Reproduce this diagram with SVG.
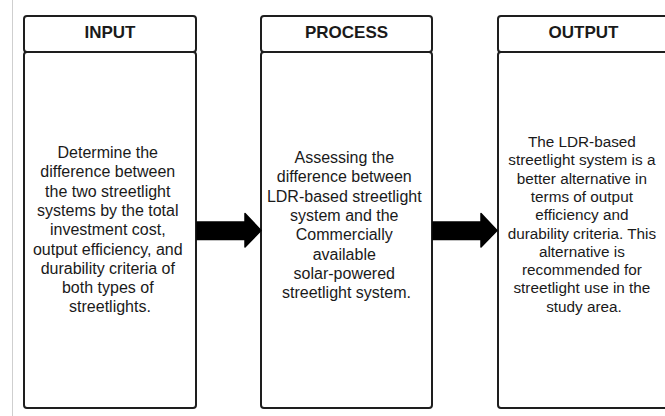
<svg xmlns="http://www.w3.org/2000/svg" width="665" height="416" viewBox="0 0 665 416">
<style>
.box{fill:#fff;stroke:#1e1e1e;stroke-width:2}
.hd{font-family:"Liberation Sans",Arial,sans-serif;font-weight:bold;font-size:17px;fill:#1a1a1a;text-anchor:middle}
.tx{font-family:"Liberation Sans",Arial,sans-serif;font-size:16px;fill:#1a1a1a;text-anchor:middle}
.arr{fill:#000;stroke:#000;stroke-width:1.5;stroke-linejoin:round}
</style>
<rect width="665" height="416" fill="#fff"/>
<line x1="12.5" y1="0" x2="12.5" y2="416" stroke="#cfcfcf" stroke-width="1"/>
<g id="input">
<rect class="box" x="24" y="52" width="172" height="356" rx="3"/>
<rect class="box" x="24" y="16" width="172" height="36" rx="3"/>
<text class="hd" x="110" y="38">INPUT</text>
<text class="tx" x="110" y="158">
<tspan x="110">Determine the</tspan>
<tspan x="110" dy="19.3">difference between</tspan>
<tspan x="110" dy="19.3">the two streetlight</tspan>
<tspan x="110" dy="19.3">systems by the total</tspan>
<tspan x="110" dy="19.3">investment cost,</tspan>
<tspan x="110" dy="19.3">output efficiency, and</tspan>
<tspan x="110" dy="19.3">durability criteria of</tspan>
<tspan x="110" dy="19.3">both types of</tspan>
<tspan x="110" dy="19.3">streetlights.</tspan>
</text>
</g>
<g id="process">
<rect class="box" x="261" y="52" width="171" height="356" rx="3"/>
<rect class="box" x="261" y="16" width="171" height="36" rx="3"/>
<text class="hd" x="346.5" y="38">PROCESS</text>
<text class="tx" x="346.5" y="163">
<tspan x="346.5">Assessing the</tspan>
<tspan x="346.5" dy="19.3">difference between</tspan>
<tspan x="346.5" dy="19.3">LDR-based streetlight</tspan>
<tspan x="346.5" dy="19.3">system and the</tspan>
<tspan x="346.5" dy="19.3">Commercially</tspan>
<tspan x="346.5" dy="19.3">available</tspan>
<tspan x="346.5" dy="19.3">solar-powered</tspan>
<tspan x="346.5" dy="19.3">streetlight system.</tspan>
</text>
</g>
<g id="output">
<rect class="box" x="498" y="52" width="171" height="356" rx="3"/>
<rect class="box" x="498" y="16" width="171" height="36" rx="3"/>
<text class="hd" x="583.5" y="38">OUTPUT</text>
<text class="tx" style="font-size:15.3px" x="584" y="147">
<tspan x="584">The LDR-based</tspan>
<tspan x="584" dy="18.3">streetlight system is a</tspan>
<tspan x="584" dy="18.3">better alternative in</tspan>
<tspan x="584" dy="18.3">terms of output</tspan>
<tspan x="584" dy="18.3">efficiency and</tspan>
<tspan x="584" dy="18.3">durability criteria. This</tspan>
<tspan x="584" dy="18.3">alternative is</tspan>
<tspan x="584" dy="18.3">recommended for</tspan>
<tspan x="584" dy="18.3">streetlight use in the</tspan>
<tspan x="584" dy="18.3">study area.</tspan>
</text>
</g>
<g id="connectors">
<path class="arr" d="M197,222 L245,222 L245,213.5 L261,230.5 L245,247 L245,239.5 L197,239.5 Z"/>
<path class="arr" d="M433,222 L481,222 L481,213.5 L497,230.5 L481,247 L481,239.5 L433,239.5 Z"/>
</g>
</svg>
